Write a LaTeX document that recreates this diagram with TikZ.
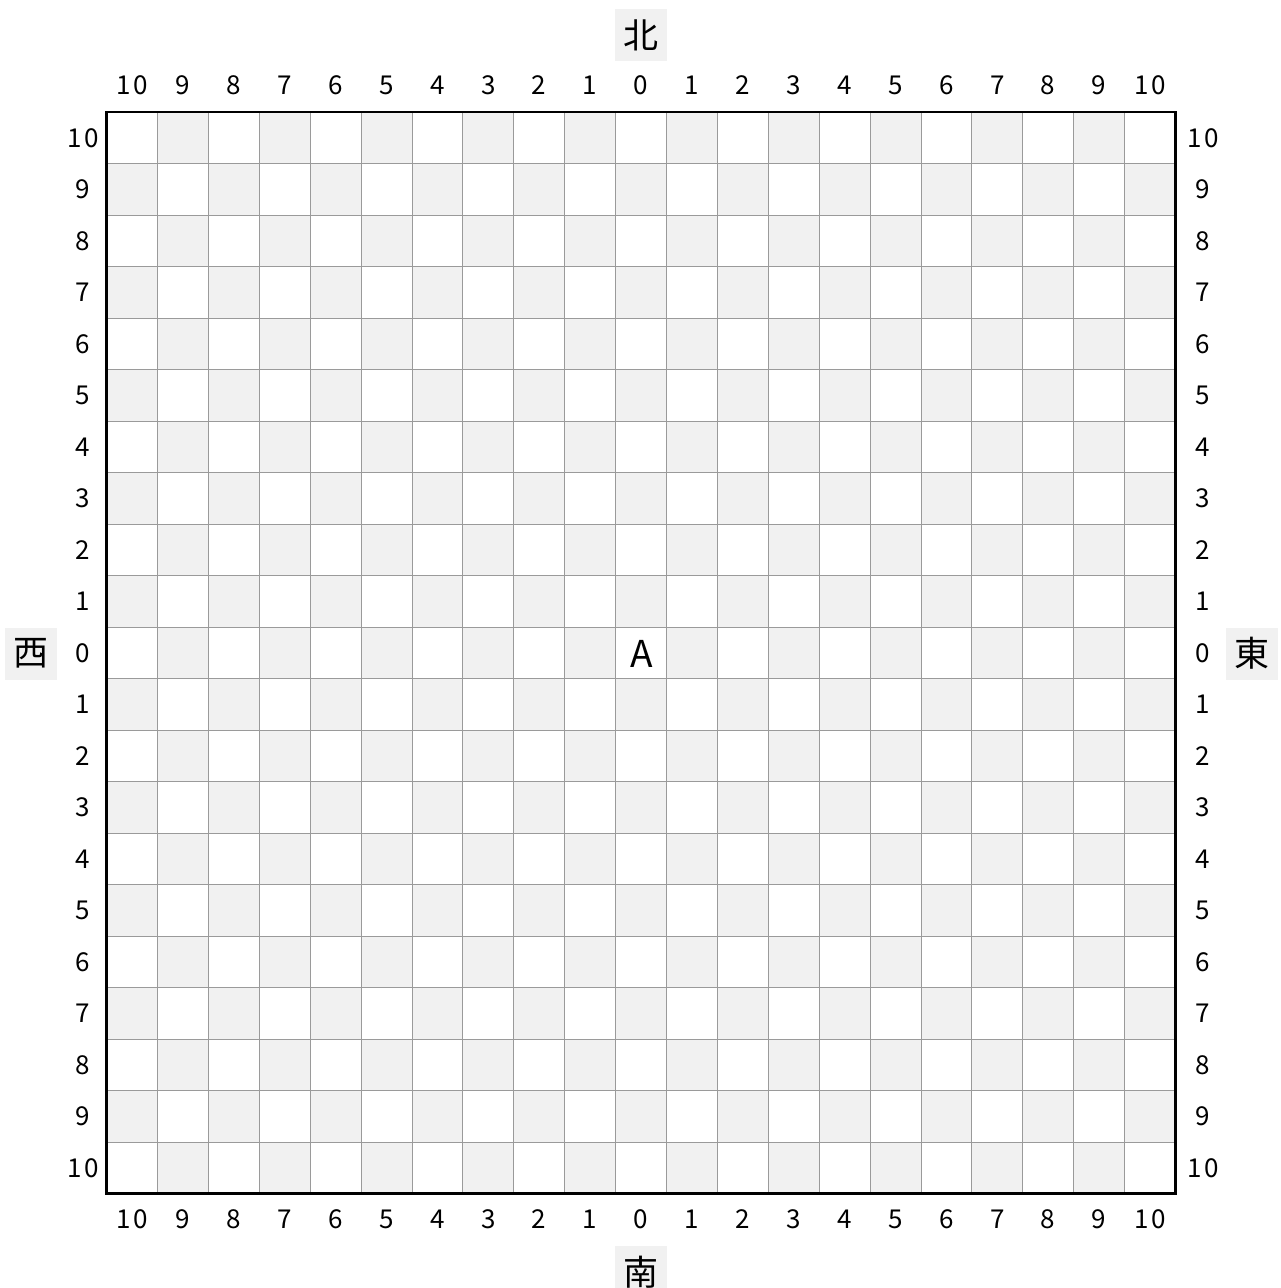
\documentclass[tikz,border=0pt]{standalone}
\usepackage{fontspec}
\setmainfont{Noto Sans CJK JP}
\definecolor{cellgray}{HTML}{F1F1F1}
\definecolor{gridgray}{HTML}{9A9A9A}
\begin{document}
\begin{tikzpicture}[x=1pt,y=-1pt,
  numlabel/.style={font=\fontsize{26}{26}\selectfont, inner sep=0pt, text height=19pt, text depth=0pt, anchor=center},
  dirlabel/.style={font=\fontsize{35}{35}\selectfont, fill=cellgray, minimum width=52pt, minimum height=52pt, inner sep=0pt},
  gridline/.style={draw=gridgray, line width=0.8pt},
  border/.style={draw=black, line width=2.6pt}]
\useasboundingbox (0,0) rectangle (1281,1288);
\fill[white] (0,0) rectangle (1281,1288);
% checkerboard
\foreach \i in {0,...,20} {
  \foreach \j in {0,...,20} {
    \pgfmathtruncatemacro\myparity{mod(\i+\j,2)}
    \ifnum\myparity=1
      \fill[cellgray] (106.5+50.9*\i, 112+51.5*\j) rectangle ++(50.9,51.5);
    \fi
  }
}
% grid lines
\foreach \i in {1,...,20} {
  \draw[gridline] (106.5+50.9*\i,112) -- (106.5+50.9*\i,1193.5);
  \draw[gridline] (106.5,112+51.5*\i) -- (1175.4,112+51.5*\i);
}
\draw[border] (106.5,112) rectangle (1175.4,1193.5);
% axis labels
\foreach \i in {0,...,20} {
  \pgfmathtruncatemacro\n{abs(\i-10)}
  \ifnum\n=10 \def\lbl{1\kern3pt0}\else \edef\lbl{\n}\fi
  \node[numlabel] (top\i) at (132+50.9*\i, 85) {\lbl};
  \node[numlabel] (bot\i) at (132+50.9*\i, 1219) {\lbl};
  \node[numlabel] (lft\i) at (83, 137.75+51.5*\i) {\lbl};
  \node[numlabel] (rgt\i) at (1203, 137.75+51.5*\i) {\lbl};
}
% direction labels
\node[dirlabel] (north) at (641,35) {北};
\node[dirlabel] (south) at (641,1272) {南};
\node[dirlabel] (west) at (30.5,653.5) {西};
\node[dirlabel] (east) at (1251.5,653.5) {東};
% point A
\node[font=\fontsize{37}{37}\selectfont, inner sep=0pt] (A) at (641.5,654) {A};
\end{tikzpicture}
\end{document}
